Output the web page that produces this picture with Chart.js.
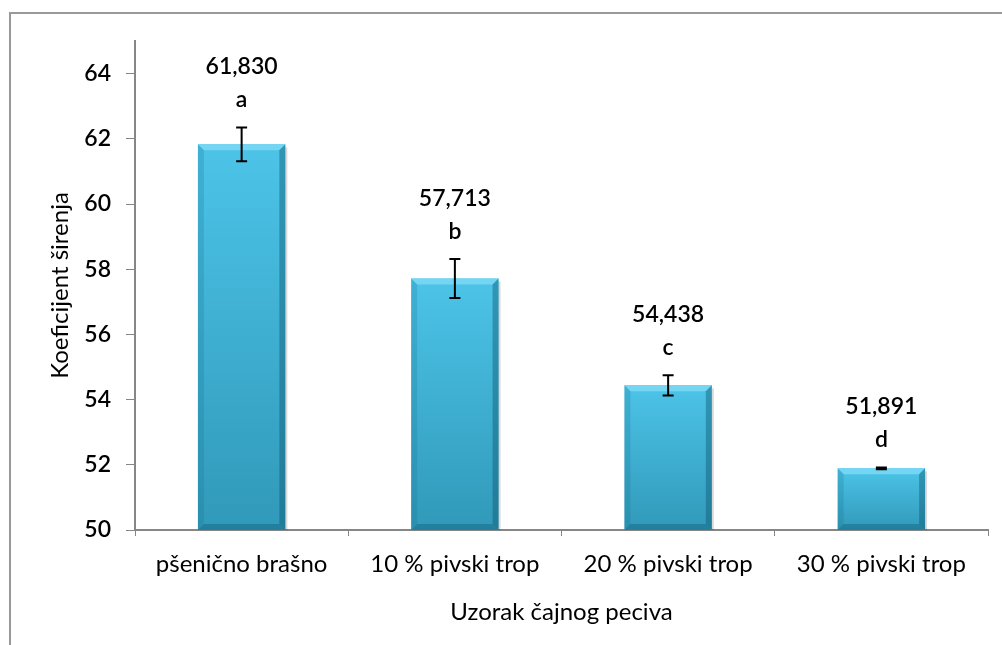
<!DOCTYPE html>
<html>
<head>
<meta charset="utf-8">
<script src="https://cdn.jsdelivr.net/npm/chart.js@4/dist/chart.umd.min.js"></script>
<style>
html,body{margin:0;padding:0;background:#fff;}
#wrap{width:1002px;height:645px;position:relative;}
</style>
</head>
<body>
<div id="wrap"><canvas id="c" width="1002" height="645"></canvas></div>
<script>
const categories = ['pšenično brašno', '10 % pivski trop', '20 % pivski trop', '30 % pivski trop'];
const means = [61.830, 57.713, 54.438, 51.891];
const errors = [0.52, 0.60, 0.31, 0.03];
const valueLabels = ['61,830', '57,713', '54,438', '51,891'];
const letters = ['a', 'b', 'c', 'd'];
const yTicks = [50, 52, 54, 56, 58, 60, 62, 64];
const yTitle = 'Koeficijent širenja';
const xTitle = 'Uzorak čajnog peciva';

const FONT = 'Lato';

const framePlugin = {
  id: 'frame',
  beforeDraw(chart) {
    const ctx = chart.ctx;
    ctx.save();
    ctx.fillStyle = '#fff';
    ctx.fillRect(0, 0, chart.width, chart.height);
    ctx.strokeStyle = '#999999';
    ctx.lineWidth = 2;
    ctx.beginPath();
    ctx.moveTo(10, chart.height);
    ctx.lineTo(10, 13);
    ctx.lineTo(chart.width, 13);
    ctx.stroke();
    ctx.restore();
  }
};

const bevelPlugin = {
  id: 'bevel',
  afterDatasetDraw(chart, args) {
    const ctx = chart.ctx;
    const meta = args.meta;
    const area = chart.chartArea;
    meta.data.forEach(bar => {
      const {x, y, base, width} = bar.getProps(['x', 'y', 'base', 'width'], true);
      const l = x - width / 2, r = x + width / 2, t = y, b = Math.min(base, area.bottom);
      const bv = 6;
      ctx.save();
      ctx.fillStyle = 'rgba(0,0,0,0.15)';
      ctx.fillRect(r, t + 3, 2, b - t - 3);
      ctx.fillStyle = '#74d6f3';
      ctx.beginPath();
      ctx.moveTo(l, t); ctx.lineTo(r, t); ctx.lineTo(r - bv, t + bv); ctx.lineTo(l + bv, t + bv); ctx.closePath();
      ctx.fill();
      ctx.fillStyle = 'rgba(20,110,140,0.22)';
      ctx.beginPath();
      ctx.moveTo(l, t); ctx.lineTo(l + bv, t + bv); ctx.lineTo(l + bv, b - bv); ctx.lineTo(l, b); ctx.closePath();
      ctx.fill();
      ctx.fillStyle = 'rgba(10,80,105,0.4)';
      ctx.beginPath();
      ctx.moveTo(r, t); ctx.lineTo(r - bv, t + bv); ctx.lineTo(r - bv, b - bv); ctx.lineTo(r, b); ctx.closePath();
      ctx.fill();
      ctx.fillStyle = 'rgba(10,80,105,0.35)';
      ctx.beginPath();
      ctx.moveTo(l, b); ctx.lineTo(l + bv, b - bv); ctx.lineTo(r - bv, b - bv); ctx.lineTo(r, b); ctx.closePath();
      ctx.fill();
      ctx.restore();
    });
  }
};

const errorLabelPlugin = {
  id: 'errLabels',
  afterDatasetsDraw(chart) {
    const ctx = chart.ctx;
    const ys = chart.scales.y;
    const meta = chart.getDatasetMeta(0);
    ctx.save();
    meta.data.forEach((bar, i) => {
      const x = bar.x;
      const top = ys.getPixelForValue(means[i] + errors[i]);
      const bot = ys.getPixelForValue(means[i] - errors[i]);
      ctx.strokeStyle = '#000';
      ctx.lineWidth = 2;
      ctx.beginPath();
      ctx.moveTo(x, top); ctx.lineTo(x, bot);
      ctx.moveTo(x - 5.5, top); ctx.lineTo(x + 5.5, top);
      ctx.moveTo(x - 5.5, bot); ctx.lineTo(x + 5.5, bot);
      ctx.stroke();
      ctx.fillStyle = '#000';
      ctx.textAlign = 'center';
      ctx.textBaseline = 'alphabetic';
      ctx.font = '600 23px ' + FONT;
      ctx.fillText(valueLabels[i], x, top - 53);
      ctx.fillText(letters[i], x, top - 20);
    });
    ctx.restore();
  }
};

const ctx = document.getElementById('c').getContext('2d');
new Chart(ctx, {
  type: 'bar',
  data: {
    labels: categories,
    datasets: [{
      data: means,
      backgroundColor: (c) => {
        const chart = c.chart;
        const area = chart.chartArea;
        if (!area || c.dataIndex === undefined) return '#3bb2d6';
        const top = chart.scales.y.getPixelForValue(means[c.dataIndex]);
        const g = chart.ctx.createLinearGradient(0, top, 0, area.bottom);
        g.addColorStop(0, '#4cc4e8');
        g.addColorStop(1, '#3199b9');
        return g;
      },
      borderWidth: 0,
      barPercentage: 0.41,
      categoryPercentage: 1.0
    }]
  },
  options: {
    responsive: false,
    animation: false,
    events: [],
    layout: {padding: {left: 0, right: 14, top: 41, bottom: 16}},
    plugins: {legend: {display: false}, tooltip: {enabled: false}},
    scales: {
      x: {
        grid: {display: true, drawOnChartArea: false, drawTicks: true, tickLength: 6, color: '#868686', offset: true},
        border: {display: true, color: '#868686', width: 2},
        ticks: {color: '#000', font: {family: FONT, size: 24}, padding: 14, maxRotation: 0},
        title: {display: true, text: xTitle, color: '#000', font: {family: FONT, size: 24}, padding: {top: 0, bottom: 2}},
        afterFit(scale) { scale.height = 99; }
      },
      y: {
        min: 50, max: 65,
        afterBuildTicks(scale) { scale.ticks = yTicks.map(v => ({value: v})); },
        grid: {display: true, drawOnChartArea: false, drawTicks: true, tickLength: 9, color: '#868686'},
        border: {display: true, color: '#868686', width: 2},
        ticks: {color: '#000', font: {family: FONT, size: 23, weight: '600'}, padding: 15},
        title: {display: true, text: yTitle, color: '#000', font: {family: FONT, size: 24}, padding: {top: 46, bottom: 0}},
        afterFit(scale) { scale.width = 135; }
      }
    }
  },
  plugins: [framePlugin, bevelPlugin, errorLabelPlugin]
});
</script>
</body>
</html>
